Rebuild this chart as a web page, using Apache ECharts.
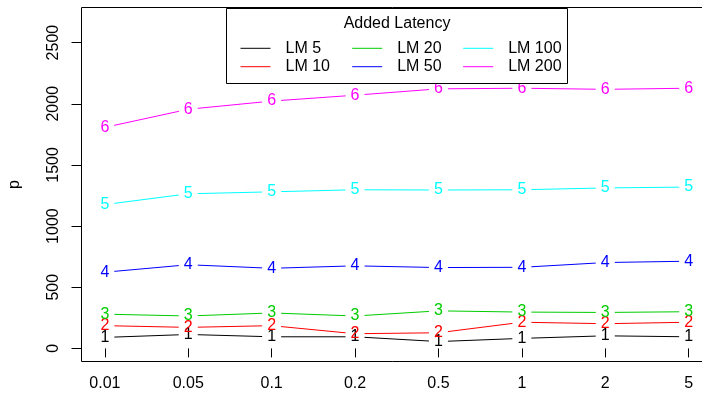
<!DOCTYPE html>
<html>
<head>
<meta charset="utf-8">
<script src="https://cdn.jsdelivr.net/npm/echarts@6/dist/echarts.min.js"></script>
<style>
html,body{margin:0;padding:0;background:#fff;}
#chart{width:702px;height:402px;}
</style>
</head>
<body>
<div id="chart"></div>
<script>
// ---- data ----
const categories = ['0.01', '0.05', '0.1', '0.2', '0.5', '1', '2', '5'];
const seriesNames = ['LM 5', 'LM 10', 'LM 20', 'LM 50', 'LM 100', 'LM 200'];
const lm5   = [90, 114, 95, 95, 56, 82, 103, 95];
const lm10  = [186, 172, 186, 120, 128, 214, 202, 214];
const lm20  = [280, 265, 290, 265, 307, 297, 294, 300];
const lm50  = [623, 684, 655, 675, 661, 663, 702, 713];
const lm100 = [1176, 1264, 1280, 1297, 1295, 1297, 1312, 1319];
const lm200 = [1807, 1955, 2022, 2070, 2122, 2127, 2118, 2127];
const yTicks = [0, 500, 1000, 1500, 2000, 2500];
const legendTitle = 'Added Latency';
const yLabel = 'p';

// ---- style ----
const values = [lm5, lm10, lm20, lm50, lm100, lm200];
const colors = ['#000000', '#FF0000', '#00CD00', '#0000FF', '#00FFFF', '#FF00FF'];
const FONT = 'Liberation Sans, Arial, sans-serif';
const xPos = categories.map((c, i) => i + 1);
const GAP = 9.5;

const chart = echarts.init(document.getElementById('chart'), null, {renderer: 'canvas'});

const series = [];
values.forEach((vals, si) => {
  series.push({
    type: 'line',
    name: seriesNames[si],
    data: vals.map((v, k) => [xPos[k], v]),
    symbol: 'none',
    silent: true,
    color: colors[si],
    lineStyle: {width: 1, opacity: 0, color: colors[si]},
    z: 1
  });
});
values.forEach((vals, si) => {
  const segData = vals.map((v, k) => {
    const n = k < vals.length - 1 ? k + 1 : k;
    return [xPos[k], v, xPos[n], vals[n]];
  });
  series.push({
    type: 'custom',
    silent: true,
    data: segData,
    z: 3,
    renderItem: function (params, api) {
      const p = api.coord([api.value(0), api.value(1)]);
      const q = api.coord([api.value(2), api.value(3)]);
      const children = [{
        type: 'text',
        style: {
          text: String(si + 1),
          x: p[0], y: p[1],
          fill: colors[si],
          font: '16px ' + FONT,
          align: 'center',
          verticalAlign: 'middle'
        }
      }];
      const dx = q[0] - p[0], dy = q[1] - p[1];
      const len = Math.sqrt(dx * dx + dy * dy);
      if (len > 2 * GAP) {
        const ux = dx / len, uy = dy / len;
        children.push({
          type: 'line',
          shape: {x1: p[0] + ux * GAP, y1: p[1] + uy * GAP, x2: q[0] - ux * GAP, y2: q[1] - uy * GAP},
          style: {stroke: colors[si], lineWidth: 1}
        });
      }
      return {type: 'group', children: children};
    }
  });
});

function legendCol(names, left) {
  return {
    data: names,
    orient: 'vertical',
    left: left,
    top: 40.3,
    padding: 0,
    itemWidth: 30,
    itemHeight: 16,
    itemGap: 2.4,
    selectedMode: false,
    lineStyle: {opacity: 1, width: 1},
    itemStyle: {opacity: 0},
    textStyle: {fontFamily: FONT, fontSize: 16, color: '#000', padding: [0, 0, 0, 10], lineHeight: 16},
    z: 10
  };
}

const option = {
  animation: false,
  backgroundColor: '#fff',
  grid: {
    left: 81.5, top: 7.5, width: 630.5, height: 354,
    outerBoundsMode: 'none', containLabel: false,
    show: true, borderColor: '#000', borderWidth: 1, backgroundColor: 'transparent'
  },
  xAxis: {
    type: 'value', min: 0.72, max: 8.28,
    axisLine: {show: false},
    splitLine: {show: false},
    axisTick: {show: true, customValues: xPos, length: 9, lineStyle: {color: '#000'}},
    axisLabel: {
      customValues: xPos,
      formatter: v => categories[Math.round(v) - 1],
      fontFamily: FONT, fontSize: 16, color: '#000', margin: 14
    }
  },
  yAxis: {
    type: 'value', min: -107, max: 2787,
    name: yLabel, nameLocation: 'middle', nameRotate: 90, nameGap: 59,
    nameTextStyle: {fontFamily: FONT, fontSize: 16, color: '#000'},
    axisLine: {show: false},
    splitLine: {show: false},
    axisTick: {show: true, customValues: yTicks, length: 10, lineStyle: {color: '#000'}},
    axisLabel: {
      customValues: yTicks, rotate: 90,
      formatter: v => String(v),
      fontFamily: FONT, fontSize: 16, color: '#000', margin: 20
    }
  },
  legend: [
    legendCol([seriesNames[0], seriesNames[1]], 240),
    legendCol([seriesNames[2], seriesNames[3]], 351.7),
    legendCol([seriesNames[4], seriesNames[5]], 462.7)
  ],
  graphic: [
    {
      type: 'rect', z: 5,
      shape: {x: 226.5, y: 8.5, width: 341, height: 75},
      style: {fill: '#fff', stroke: '#000', lineWidth: 1}
    },
    {
      type: 'text', z: 6,
      style: {text: legendTitle, x: 397, y: 23.5, align: 'center', verticalAlign: 'middle',
        font: '16px ' + FONT, fill: '#000'}
    }
  ],
  series: series
};
chart.setOption(option);
</script>
</body>
</html>
